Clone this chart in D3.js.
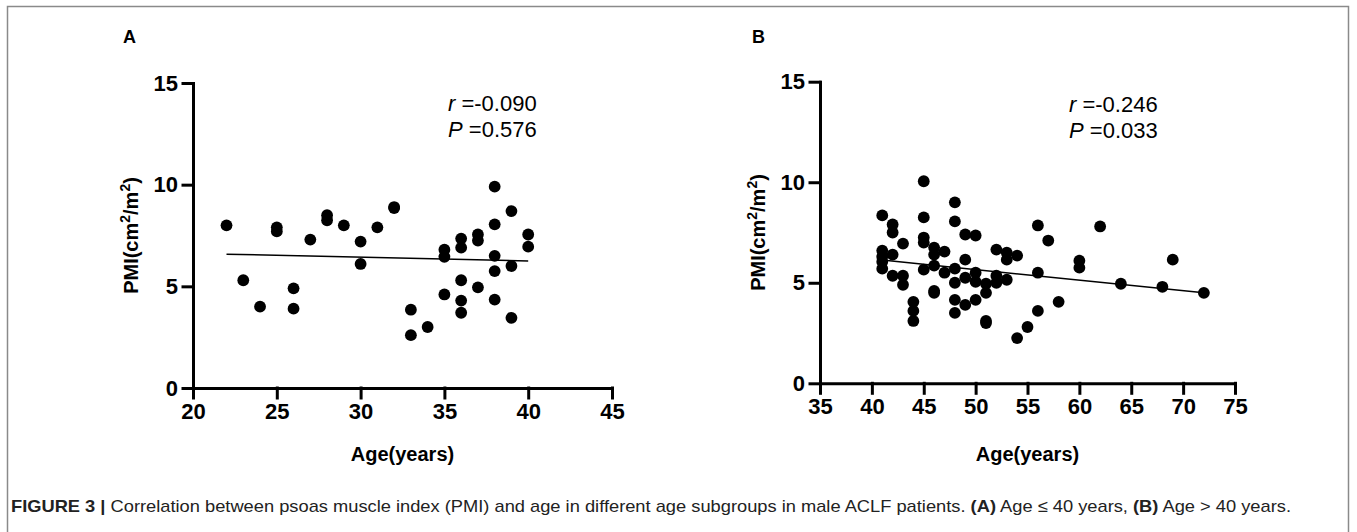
<!DOCTYPE html>
<html><head><meta charset="utf-8">
<script src="https://cdn.jsdelivr.net/npm/d3@7/dist/d3.min.js"></script>
<style>
body{margin:0;background:#fff;}
svg{display:block;}
</style></head>
<body><svg id="c" width="1357" height="532"></svg>
<script>
// ---- data ----
const ageA = [22,23,24,25,25,26,26,27,28,28,29,30,30,31,32,32,33,33,34,35,35,35,36,36,36,36,36,37,37,37,38,38,38,38,38,39,39,39,40,40];
const pmiA = [8.0,5.3,4.0,7.9,7.7,4.9,3.9,7.3,8.5,8.25,8.0,7.2,6.1,7.9,8.9,8.85,3.85,2.6,3.0,6.8,6.45,4.6,7.35,6.9,5.3,4.3,3.7,7.55,7.25,4.95,9.9,8.05,6.5,5.75,4.35,8.7,6.0,3.45,7.55,6.95];
const ageB = [41,41,41,41,41, 42,42,42,42, 43,43,43, 44,44,44, 45,45,45,45,45, 46,46,46,46,46, 47,47, 48,48,48,48,48,48, 49,49,49,49, 50,50,50,50, 51,51,51,51, 52,52,52, 53,53,53, 54,54, 55, 56,56,56, 57, 58, 60,60, 62, 64, 68, 69, 72];
const pmiB = [8.35,6.6,6.3,6.05,5.7, 7.9,7.5,6.4,5.35, 6.95,5.35,4.9, 4.05,3.6,3.1, 10.05,8.25,7.25,7.0,5.65, 6.75,6.4,5.85,4.6,4.5, 6.55,5.5, 9.0,8.05,5.7,5.0,4.15,3.5, 7.4,6.15,5.25,3.9, 7.35,5.5,5.05,4.15, 4.95,4.5,3.1,3.0, 6.65,5.35,5.0, 6.5,6.15,5.15, 6.35,2.25, 2.8, 7.85,5.5,3.6, 7.1, 4.05, 6.1,5.75, 7.8, 4.95, 4.8, 6.15, 4.5];
const fitAgeA = [22,40], fitPmiA = [6.58,6.25];
const fitAgeB = [41,72], fitPmiB = [6.13,4.5];
const yTicks = [0,5,10,15];
const xTicksA = [20,25,30,35,40,45];
const xTicksB = [35,40,45,50,55,60,65,70,75];
const statsA = ["-0.090","0.576"];
const statsB = ["-0.246","0.033"];

const svg = d3.select("#c");
const F = "'Liberation Sans', Arial, Helvetica, sans-serif";

// frame
svg.append("rect").attr("x",7.5).attr("y",6.5).attr("width",1341).attr("height",560)
  .attr("fill","none").attr("stroke","#8a8a8a").attr("stroke-width",1.5);

function panel(o){
  const x = d3.scaleLinear().domain(o.xd).range(o.xr);
  const y = d3.scaleLinear().domain([0,15]).range(o.yr);
  const g = svg.append("g");
  const ya = g.append("g").attr("transform",`translate(${o.xr[0]},0)`)
    .call(d3.axisLeft(y).tickValues(yTicks).tickSize(10).tickSizeOuter(0).tickPadding(5));
  const xa = g.append("g").attr("transform",`translate(0,${o.yr[0]})`)
    .call(d3.axisBottom(x).tickValues(o.xt).tickSize(10).tickSizeOuter(0).tickPadding(5));
  [ya,xa].forEach(a=>{
    a.selectAll("path,line").attr("stroke","#000").attr("stroke-width",3).attr("stroke-linecap","square");
    a.selectAll("text").attr("fill","#000").style("font-family",F).style("font-weight","bold").style("font-size","22px");
  });
  // fit line
  g.append("line").attr("x1",x(o.fx[0])).attr("y1",y(o.fy[0])).attr("x2",x(o.fx[1])).attr("y2",y(o.fy[1]))
    .attr("stroke","#000").attr("stroke-width",1.5);
  // points
  g.selectAll("circle.p").data(o.ages.map((a,i)=>[a,o.pmis[i]])).join("circle")
    .attr("cx",d=>x(d[0])).attr("cy",d=>y(d[1])).attr("r",5.9).attr("fill","#000");
  // panel letter
  g.append("text").attr("x",o.lx).attr("y",43).text(o.letter)
    .style("font-family",F).style("font-weight","bold").style("font-size","18px");
  // axis titles
  const xm = (o.xr[0]+o.xr[1])/2;
  g.append("text").attr("x",xm).attr("y",461).attr("text-anchor","middle").text("Age(years)")
    .style("font-family",F).style("font-weight","bold").style("font-size","20px");
  const ym = (o.yr[0]+o.yr[1])/2;
  const yl = g.append("text").attr("transform",`translate(${o.xr[0]-55},${ym}) rotate(-90)`)
    .attr("text-anchor","middle").style("font-family",F).style("font-weight","bold").style("font-size","20px");
  yl.append("tspan").text("PMI(cm");
  yl.append("tspan").text("2").attr("dy",-8).style("font-size","14px");
  yl.append("tspan").text("/m").attr("dy",8);
  yl.append("tspan").text("2").attr("dy",-8).style("font-size","14px");
  yl.append("tspan").text(")").attr("dy",8);
  // stats
  const s1 = g.append("text").attr("x",o.sx).attr("y",o.sy).style("font-family",F).style("font-size","22px");
  s1.append("tspan").text("r").style("font-style","italic");
  s1.append("tspan").text(" =" + o.stats[0]);
  const s2 = g.append("text").attr("x",o.sx).attr("y",o.sy+26).style("font-family",F).style("font-size","22px");
  s2.append("tspan").text("P").style("font-style","italic");
  s2.append("tspan").text(" =" + o.stats[1]);
}

panel({xd:[20,45], xr:[193,612], yr:[388,83], xt:xTicksA, ages:ageA, pmis:pmiA,
  fx:fitAgeA, fy:fitPmiA, letter:"A", lx:123, sx:448, sy:111, stats:statsA});
panel({xd:[35,75], xr:[820,1235], yr:[383.3,81.7], xt:xTicksB, ages:ageB, pmis:pmiB,
  fx:fitAgeB, fy:fitPmiB, letter:"B", lx:752, sx:1069, sy:112, stats:statsB});

// caption
const cap = svg.append("text").attr("x",11).attr("y",512)
  .attr("textLength",1280).attr("lengthAdjust","spacingAndGlyphs")
  .style("font-family","'Liberation Sans Narrow', 'Arial Narrow', " + F).style("font-size","17px").attr("fill","#222");
cap.append("tspan").text("FIGURE 3 | ").style("font-weight","bold");
cap.append("tspan").text("Correlation between psoas muscle index (PMI) and age in different age subgroups in male ACLF patients. ");
cap.append("tspan").text("(A)").style("font-weight","bold");
cap.append("tspan").text(" Age \u2264 40 years, ");
cap.append("tspan").text("(B)").style("font-weight","bold");
cap.append("tspan").text(" Age > 40 years.");
</script></body></html>
